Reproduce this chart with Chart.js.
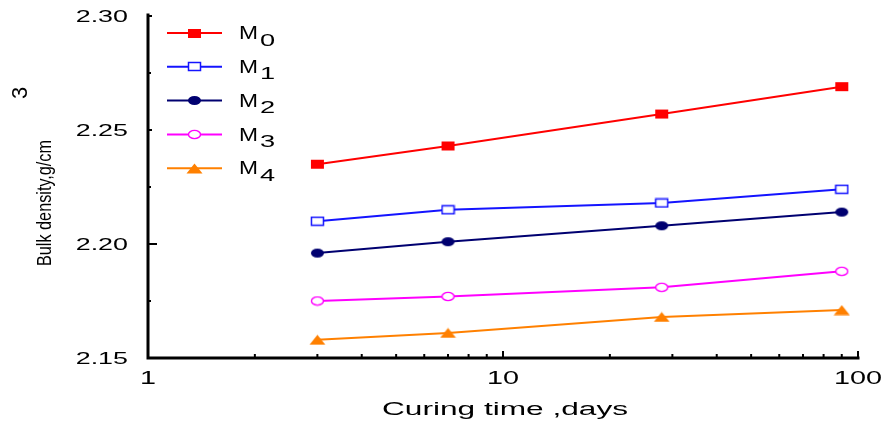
<!DOCTYPE html>
<html>
<head>
<meta charset="utf-8">
<script src="https://cdn.jsdelivr.net/npm/chart.js@4.4.1/dist/chart.umd.min.js"></script>
<style>
  html, body { margin: 0; padding: 0; background: #ffffff; }
  #wrap { width: 883px; height: 425px; }
</style>
</head>
<body>
<div id="wrap"><canvas id="chart" width="883" height="425"></canvas></div>
<script>
// Curing ages (days) and bulk density (g/cm3) per mix
const curingDays = [3, 7, 28, 90];
const mixM0 = [2.235, 2.243, 2.257, 2.269];
const mixM1 = [2.210, 2.215, 2.218, 2.224];
const mixM2 = [2.196, 2.201, 2.208, 2.214];
const mixM3 = [2.175, 2.177, 2.181, 2.188];
const mixM4 = [2.158, 2.161, 2.168, 2.171];

const seriesBase = ['M', 'M', 'M', 'M', 'M'];
const seriesSub = ['0', '1', '2', '3', '4'];

// Axis ticks
const yMajorTicks = [2.15, 2.20, 2.25, 2.30];
const yMinorTicks = [2.175, 2.225, 2.275];
const xLabelTicks = [1, 10, 100];
const xMinorTicks = [2, 3, 4, 5, 6, 7, 8, 9, 20, 30, 40, 50, 60, 70, 80, 90];

const xTitle = 'Curing time ,days';
const yTitle = 'Bulk density,g/cm';
const yTitleSup = '3';

const FONT = '"Liberation Sans", Arial, Helvetica, sans-serif';

// Small stretched marker bitmaps used as point styles
function makeMarker(kind, color) {
  const c = document.createElement('canvas');
  const g = c.getContext('2d');
  if (kind === 'tri') {
    c.width = 17; c.height = 11;
    g.fillStyle = color;
    g.beginPath();
    g.moveTo(8.5, 0.5); g.lineTo(16.5, 10.5); g.lineTo(0.5, 10.5);
    g.closePath(); g.fill();
    return c;
  }
  c.width = 15; c.height = 11;
  if (kind === 'rect') {
    g.fillStyle = color; g.fillRect(1, 1, 13, 9);
  } else if (kind === 'rectOpen') {
    g.fillStyle = '#ffffff'; g.fillRect(1.5, 1.5, 12, 8);
    g.strokeStyle = color; g.lineWidth = 1.5; g.strokeRect(1.5, 1.5, 12, 8);
  } else if (kind === 'circ') {
    g.fillStyle = color;
    g.beginPath(); g.ellipse(7.5, 5.5, 6.5, 4.6, 0, 0, Math.PI * 2); g.fill();
  } else if (kind === 'circOpen') {
    g.fillStyle = '#ffffff'; g.strokeStyle = color; g.lineWidth = 1.4;
    g.beginPath(); g.ellipse(7.5, 5.5, 6, 4.1, 0, 0, Math.PI * 2); g.fill(); g.stroke();
  }
  return c;
}

const colors = ['#ff0000', '#1414ff', '#000070', '#ff00ff', '#ff8000'];
const markerKinds = ['rect', 'rectOpen', 'circ', 'circOpen', 'tri'];
const seriesValues = [mixM0, mixM1, mixM2, mixM3, mixM4];

const datasets = seriesValues.map((vals, i) => ({
  label: seriesBase[i] + seriesSub[i],
  data: curingDays.map((d, k) => ({ x: d, y: vals[k] })),
  borderColor: colors[i],
  backgroundColor: colors[i],
  borderWidth: 2,
  pointStyle: makeMarker(markerKinds[i], colors[i]),
  pointRadius: 6,
  tension: 0,
  clip: false
}));

function stretchedText(ctx, text, x, y, px, sx, align, baseline) {
  ctx.save();
  ctx.font = px + 'px ' + FONT;
  ctx.translate(x, y);
  ctx.scale(sx, 1);
  ctx.textAlign = align;
  ctx.textBaseline = baseline;
  ctx.fillStyle = '#000000';
  ctx.fillText(text, 0, 0);
  ctx.restore();
}

// Axes with inward ticks, tick labels and titles
const axesPlugin = {
  id: 'axesPlugin',
  beforeDatasetsDraw(chart) {
    const ctx = chart.ctx;
    const xs = chart.scales.x, ys = chart.scales.y;
    const left = xs.getPixelForValue(1), right = xs.getPixelForValue(100);
    const top = ys.getPixelForValue(2.30), bottom = ys.getPixelForValue(2.15);
    ctx.save();
    ctx.strokeStyle = '#000000';
    ctx.lineWidth = 3;
    ctx.lineCap = 'square';
    ctx.beginPath();
    ctx.moveTo(left, top - 1); ctx.lineTo(left, bottom); ctx.lineTo(right, bottom);
    ctx.stroke();

    ctx.lineWidth = 2;
    ctx.lineCap = 'butt';
    ctx.beginPath();
    yMajorTicks.forEach(v => {
      const p = ys.getPixelForValue(v);
      const len = v === 2.20 ? 9 : 4;
      ctx.moveTo(left, p); ctx.lineTo(left + len, p);
    });
    yMinorTicks.forEach(v => {
      const p = ys.getPixelForValue(v);
      ctx.moveTo(left, p); ctx.lineTo(left + 3, p);
    });
    xLabelTicks.forEach(v => {
      const p = xs.getPixelForValue(v);
      ctx.moveTo(p, bottom); ctx.lineTo(p, bottom - 7);
    });
    xMinorTicks.forEach(v => {
      const p = xs.getPixelForValue(v);
      ctx.moveTo(p, bottom); ctx.lineTo(p, bottom - 4);
    });
    ctx.stroke();
    ctx.restore();

    yMajorTicks.forEach(v => {
      stretchedText(ctx, v.toFixed(2), left - 20, ys.getPixelForValue(v) + 1, 17, 1.58, 'right', 'middle');
    });
    xLabelTicks.forEach(v => {
      stretchedText(ctx, String(v), xs.getPixelForValue(v), bottom + 21, 18, 1.6, 'center', 'middle');
    });

    // x title fitted to its span
    ctx.save();
    ctx.font = '18px ' + FONT;
    const xtW = ctx.measureText(xTitle).width;
    ctx.restore();
    stretchedText(ctx, xTitle, 505, 410, 18, 246 / xtW, 'center', 'middle');

    // y title in a condensed face, rotated
    ctx.save();
    ctx.font = '20px "Liberation Sans Narrow", ' + FONT;
    const ytW = ctx.measureText(yTitle).width;
    ctx.translate(45, 203);
    ctx.rotate(-Math.PI / 2);
    ctx.scale(126 / ytW, 1);
    ctx.textAlign = 'center';
    ctx.textBaseline = 'middle';
    ctx.fillStyle = '#000000';
    ctx.fillText(yTitle, 0, 0);
    ctx.restore();

    ctx.save();
    ctx.font = '22px ' + FONT;
    ctx.translate(21, 93);
    ctx.rotate(-Math.PI / 2);
    ctx.textAlign = 'center';
    ctx.textBaseline = 'middle';
    ctx.fillStyle = '#000000';
    ctx.fillText(yTitleSup, 0, 0);
    ctx.restore();
  }
};

// Legend with subscripted series names
const legendPlugin = {
  id: 'subLegend',
  afterDraw(chart) {
    const ctx = chart.ctx;
    const x0 = 167, x1 = 222, rowTop = 33, rowStep = 33.8;
    chart.data.datasets.forEach((ds, i) => {
      const y = rowTop + i * rowStep;
      ctx.save();
      ctx.strokeStyle = ds.borderColor;
      ctx.lineWidth = 2;
      ctx.beginPath(); ctx.moveTo(x0, y); ctx.lineTo(x1, y); ctx.stroke();
      const m = ds.pointStyle;
      ctx.drawImage(m, Math.round((x0 + x1) / 2 - m.width / 2), Math.round(y - m.height / 2));
      ctx.restore();
      stretchedText(ctx, seriesBase[i], 239, y + 1, 19, 1.2, 'left', 'middle');
      stretchedText(ctx, seriesSub[i], 260, y + 8, 17, 1.6, 'left', 'middle');
    });
  }
};

new Chart(document.getElementById('chart'), {
  type: 'line',
  data: { datasets },
  options: {
    responsive: false,
    devicePixelRatio: 1,
    animation: false,
    layout: { padding: { left: 148, right: 25, top: 16, bottom: 67 } },
    plugins: { legend: { display: false }, tooltip: { enabled: false } },
    scales: {
      x: { type: 'logarithmic', min: 1, max: 100, display: false },
      y: { type: 'linear', min: 2.15, max: 2.30, display: false }
    }
  },
  plugins: [axesPlugin, legendPlugin]
});
</script>
</body>
</html>
